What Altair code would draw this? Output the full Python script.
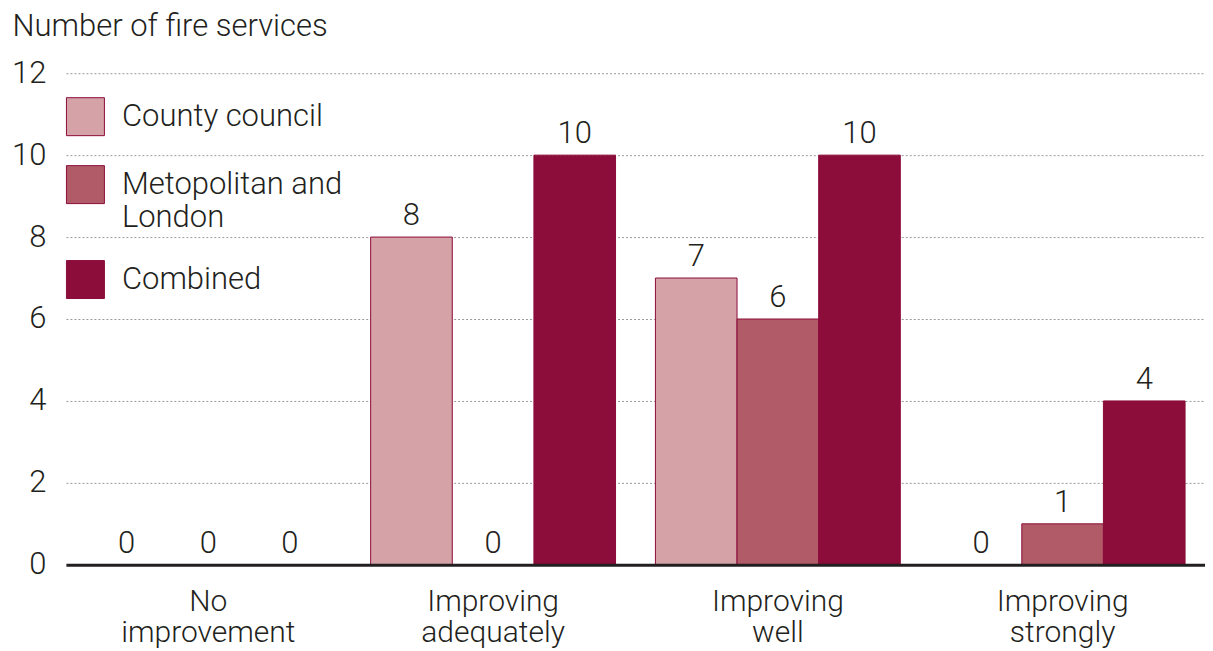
import altair as alt
import pandas as pd

categories = ["No improvement", "Improving adequately", "Improving well", "Improving strongly"]
series = ["County council", "Metopolitan and London", "Combined"]
county = [0, 8, 7, 0]
metro = [0, 0, 6, 1]
combined = [0, 10, 10, 4]
colors = ["#d4a2a7", "#b05b67", "#8c0c3a"]
y_ticks = [0, 2, 4, 6, 8, 10, 12]

rows = []
for i, c in enumerate(categories):
    for s, vals in zip(series, [county, metro, combined]):
        rows.append({"category": c, "series": s, "value": vals[i]})
df = pd.DataFrame(rows)

FONT = "Roboto"
TXT = "#231f20"
FS = 31

x = alt.X(
    "category:N", sort=categories,
    scale=alt.Scale(paddingInner=0.14, paddingOuter=0.07),
    axis=alt.Axis(title=None, labelAngle=0, labelExpr="split(datum.label, ' ')",
                  labelFontSize=30, labelPadding=22, labelLineHeight=31, labelLimit=400,
                  labelFont=FONT, labelFontWeight=300, labelColor=TXT,
                  domainColor=TXT, domainWidth=3, ticks=False, zindex=1),
)
y = alt.Y(
    "value:Q", scale=alt.Scale(domain=[0, 12]),
    axis=alt.Axis(title=None, values=y_ticks, grid=True, gridDash=[2, 2],
                  gridColor="#9a9a9a", gridWidth=1, domain=False, ticks=False,
                  labelFontSize=FS, labelPadding=20, labelFont=FONT,
                  labelFontWeight=300, labelColor=TXT),
)
xoff = alt.XOffset("series:N", sort=series, scale=alt.Scale(paddingInner=0, paddingOuter=0))

bars = alt.Chart(df).mark_bar(stroke="#8c0c3a", strokeWidth=1, opacity=1).encode(
    x=x, y=y, xOffset=xoff,
    color=alt.Color(
        "series:N", sort=series,
        scale=alt.Scale(domain=series, range=colors),
        legend=alt.Legend(
            title=None, orient="none", legendX=0, legendY=24,
            symbolType="square", symbolSize=1444, symbolStrokeColor="#8c0c3a",
            symbolStrokeWidth=1, symbolOpacity=1,
            labelFontSize=FS, labelFont=FONT, labelFontWeight=300, labelColor=TXT,
            labelOffset=17, rowPadding=25, labelLimit=400,
            labelExpr="datum.label == 'Metopolitan and London' ? ['Metopolitan and', 'London'] : datum.label",
        ),
    ),
)

labels = alt.Chart(df).mark_text(
    baseline="bottom", dy=-5, fontSize=FS, font=FONT, fontWeight=300, color=TXT
).encode(x=x, y=y, xOffset=xoff, text="value:Q")

chart = alt.layer(bars, labels).properties(
    width=1140, height=492,
    padding={"left": 3, "top": 3, "right": 0, "bottom": 0},
    title=alt.TitleParams("Number of fire services", anchor="start", frame="bounds",
                          fontSize=FS, fontWeight=300, font=FONT, color=TXT,
                          offset=14, dx=1),
).configure_view(stroke=None)

chart.save("out.html", embed_options={"renderer": "svg", "actions": False})
